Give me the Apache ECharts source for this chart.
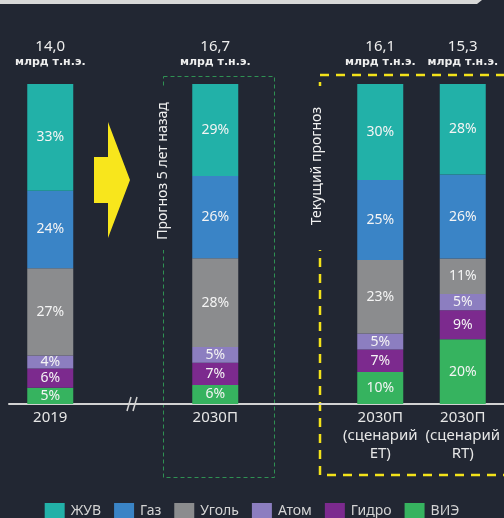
<!DOCTYPE html>
<html>
<head>
    <meta charset="utf-8">
    <title>Энергобаланс</title>
    <script src="https://cdn.jsdelivr.net/npm/echarts@6/dist/echarts.min.js"></script>
    <style type="text/css">
        html, body {
            margin: 0;
            padding: 0;
            background: #222733;
        }
        #chart {
            width: 504px;
            height: 518px;
        }
    </style>
</head>
<body>
<div id="chart"></div>
<script>
    // категории (пустые - разрыв оси и промежуток)
    var categories = ['2019', '', '2030П', '', '2030П\n(сценарий\nET)', '2030П\n(сценарий\nRT)'];
    var totals = ['14,0', '', '16,7', '', '16,1', '15,3'];

    var zhuv = [33, null, 29, null, 30, 28];
    var gaz = [24, null, 26, null, 25, 26];
    var ugol = [27, null, 28, null, 23, 11];
    var atom = [4, null, 5, null, 5, 5];
    var gidro = [6, null, 7, null, 7, 9];
    var vie = [5, null, 6, null, 10, 20];

    var names = ['ЖУВ', 'Газ', 'Уголь', 'Атом', 'Гидро', 'ВИЭ'];
    var colors = ['#22b1a8', '#3a84c6', '#8b8c8e', '#8c7ec0', '#7c2a8e', '#36b35f'];
    var values = [zhuv, gaz, ugol, atom, gidro, vie];

    // сумма по столбцу, чтобы все столбцы были 100%
    var sums = categories.map(function (c, i) {
        var s = 0;
        values.forEach(function (arr) { s += arr[i] || 0; });
        return s;
    });

    var series = [];
    // снизу вверх: ВИЭ ... ЖУВ
    for (var k = values.length - 1; k >= 0; k--) {
        series.push({
            name: names[k],
            type: 'bar',
            stack: 'all',
            barWidth: 46,
            itemStyle: {color: colors[k]},
            label: {
                show: true,
                position: 'inside',
                color: '#f4f4f4',
                fontSize: 14,
                fontFamily: 'Noto Sans',
                formatter: function (p) { return p.data.raw + '%'; }
            },
            data: values[k].map(function (v, i) {
                if (v == null) return '-';
                return {value: v / sums[i] * 100, raw: v};
            })
        });
    }
    // подписи итогов над столбцами
    series.push({
        name: 'итого',
        type: 'bar',
        stack: 'all',
        barWidth: 46,
        itemStyle: {color: 'transparent'},
        label: {
            show: true,
            position: 'top',
            distance: 15,
            formatter: function (p) {
                return '{a|' + totals[p.dataIndex] + '}\n{b|млрд т.н.э.}';
            },
            rich: {
                a: {fontSize: 15, lineHeight: 16, color: '#eeeeee', fontFamily: 'Noto Sans'},
                b: {fontSize: 11, lineHeight: 14, color: '#eeeeee', fontWeight: 'bold', fontFamily: 'DejaVu Sans'}
            }
        },
        data: totals.map(function (t) { return t === '' ? '-' : 0; })
    });

    var chart = echarts.init(document.getElementById('chart'));
    var option = {
        backgroundColor: '#222733',
        animation: false,
        grid: {left: 9, right: -1, top: 84, bottom: 114},
        legend: {
            data: names,
            top: 503,
            left: 'center',
            padding: 0,
            itemWidth: 20,
            itemHeight: 16,
            itemGap: 13,
            icon: 'rect',
            textStyle: {color: '#d4d4d4', fontSize: 14, fontFamily: 'Noto Sans', padding: [0, 0, 0, 1]}
        },
        xAxis: {
            type: 'category',
            data: categories,
            axisTick: {show: false},
            axisLine: {lineStyle: {color: '#d2d2d2', width: 2}},
            axisLabel: {
                interval: 0,
                margin: 5,
                color: '#e6e6e6',
                fontSize: 15,
                lineHeight: 18,
                fontFamily: 'Noto Sans'
            }
        },
        yAxis: {
            type: 'value',
            min: 0,
            max: 100,
            show: false
        },
        graphic: [
            // шапка сверху
            {
                type: 'polygon',
                shape: {points: [[0, 0], [482, 0], [477, 4], [0, 4]]},
                style: {fill: '#d8d8d8'}
            },
            // стрелка
            {
                type: 'polygon',
                shape: {points: [[94, 157], [108, 157], [108, 122], [130, 180], [108, 238], [108, 203], [94, 203]]},
                style: {fill: '#f8e61c'}
            },
            // зелёная рамка
            {
                type: 'rect',
                shape: {x: 163.5, y: 76.5, width: 111, height: 401},
                style: {fill: 'none', stroke: '#2f9153', lineWidth: 1, lineDash: [4, 3]}
            },
            // жёлтая рамка
            {
                type: 'rect',
                shape: {x: 320, y: 75, width: 200, height: 400},
                style: {fill: 'none', stroke: '#f3e21a', lineWidth: 2.5, lineDash: [9, 7]}
            },
            {
                type: 'rect',
                shape: {x: 155, y: 88, width: 18, height: 162},
                style: {fill: '#222733'}
            },
            {
                type: 'rect',
                shape: {x: 308, y: 86, width: 20, height: 164},
                style: {fill: '#222733'}
            },
            {
                type: 'text',
                x: 163,
                y: 171,
                rotation: Math.PI / 2,
                style: {
                    text: 'Прогноз 5 лет назад',
                    fill: '#f0f0f0',
                    fontSize: 14,
                    fontFamily: 'Noto Sans',
                    align: 'center',
                    verticalAlign: 'middle'
                }
            },
            {
                type: 'text',
                x: 317,
                y: 166,
                rotation: Math.PI / 2,
                style: {
                    text: 'Текущий прогноз',
                    fill: '#f0f0f0',
                    fontSize: 14,
                    fontFamily: 'Noto Sans',
                    align: 'center',
                    verticalAlign: 'middle'
                }
            },
            // разрыв оси
            {
                type: 'rect',
                shape: {x: 127, y: 401, width: 10, height: 7},
                style: {fill: '#222733'}
            },
            {
                type: 'line',
                shape: {x1: 131, y1: 397, x2: 127, y2: 411},
                style: {stroke: '#d2d2d2', lineWidth: 1.5}
            },
            {
                type: 'line',
                shape: {x1: 137, y1: 397, x2: 133, y2: 411},
                style: {stroke: '#d2d2d2', lineWidth: 1.5}
            }
        ],
        series: series
    };
    chart.setOption(option);
</script>
</body>
</html>
